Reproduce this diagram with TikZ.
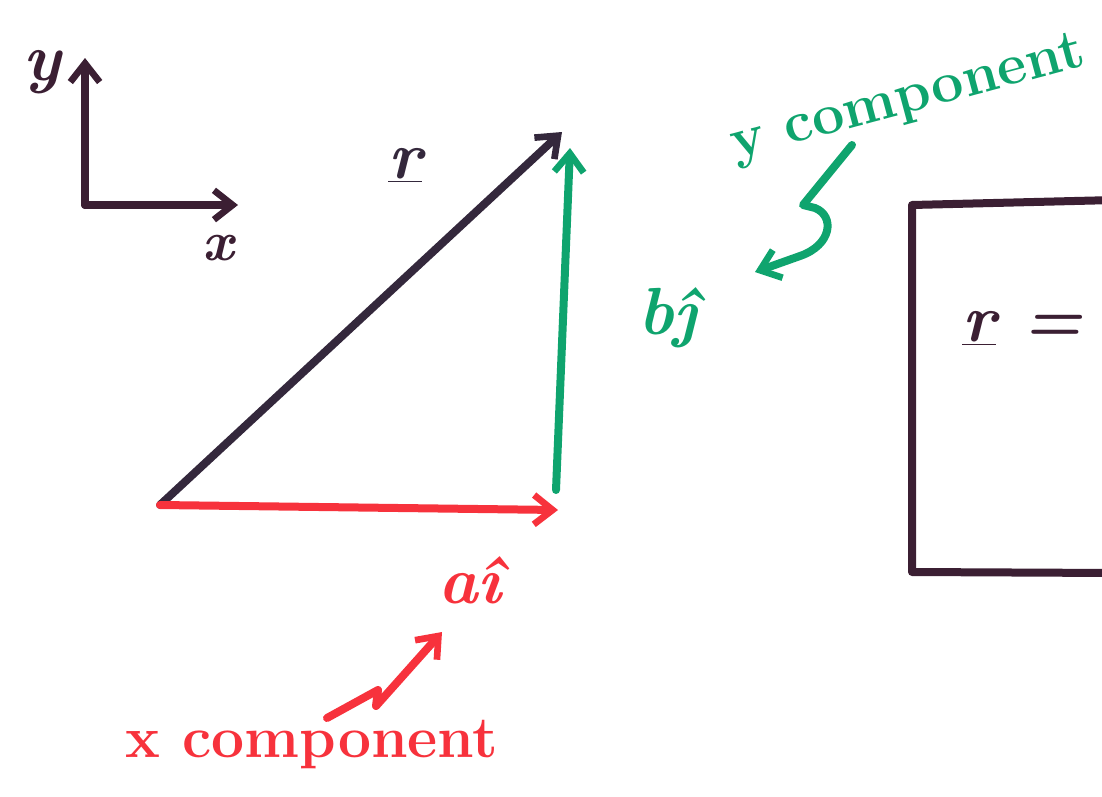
\documentclass[tikz,border=0pt]{standalone}
\usepackage{fontspec}
\usetikzlibrary{arrows.meta}
\definecolor{ink}{HTML}{3B1F33}
\definecolor{rvec}{HTML}{34283C}
\definecolor{redink}{HTML}{F7323C}
\definecolor{greenink}{HTML}{0FA46E}
\newcommand{\ul}[1]{\underline{#1}}
\tikzset{
  pen/.style={line width=6pt, line cap=round, line join=round},
  tip/.style={-{Straight Barb[length=14pt,width=22pt,line width=5pt]}},
  lbl/.style={inner sep=0pt, font=\fontsize{50}{56}\selectfont\bfseries},
  words/.style={inner sep=0pt, font=\fontsize{44}{50}\selectfont\bfseries},
}
\begin{document}
\begin{tikzpicture}[x=0.75pt,y=-0.75pt]
\useasboundingbox (0,0) rectangle (1102,796);
\clip (0,0) rectangle (1102,796);
% axes
\coordinate (O) at (85,205);
\coordinate (Ytip) at (85,58);
\coordinate (Xtip) at (238,205);
\draw[pen, ink, tip] (O) -- (Ytip);
\draw[pen, ink, tip] (O) -- (Xtip);
\node[lbl, ink] (ylab) at (42,72) {\itshape y};
\node[lbl, ink, font=\fontsize{42}{48}\selectfont\bfseries] (xlab) at (218,248) {\itshape x};
% triangle
\coordinate (A) at (160,505);
\coordinate (B) at (562,132);
\coordinate (C) at (558,510);
\coordinate (Cg) at (556,490);
\coordinate (Bg) at (570,148);
\draw[pen, rvec, tip] (A) -- (B);
\draw[pen, redink, tip] (A) -- (C);
\draw[pen, greenink, tip] (Cg) -- (Bg);
\node[lbl, rvec] (rlab) at (405,165) {\itshape\ul{r}};
% labels
\node[lbl, redink] (ai) at (470,580) {\itshape aî};
\node[words, redink] (xcomp) at (312,745) {x component};
\node[lbl, greenink] (bj) at (668,318) {\itshape bĵ};
\node[words, font=\fontsize{43}{49}\selectfont\bfseries, greenink, rotate=15] (ycomp) at (908,100) {y component};
% squiggle arrows
\coordinate (rs) at (327,718);
\coordinate (re) at (442,632);
\draw[pen, redink, tip] (rs) -- (378,690) -- (376,706) -- (re);
\coordinate (gs) at (852,145);
\coordinate (ge) at (755,272);
\draw[pen, greenink, tip] (gs) -- (803,205) -- (815,208) .. controls (835,216) and (832,245) .. (800,256) -- (ge);
% box
\coordinate (TL) at (912,205);
\coordinate (BL) at (912,572);
\draw[pen, ink] (1115,200) -- (TL) -- (BL) -- (1115,573);
\node[lbl, ink, font=\fontsize{50}{56}\selectfont\bfseries, anchor=west] (rbox) at (962,328) {\itshape\ul{r} =};
\end{tikzpicture}
\end{document}
